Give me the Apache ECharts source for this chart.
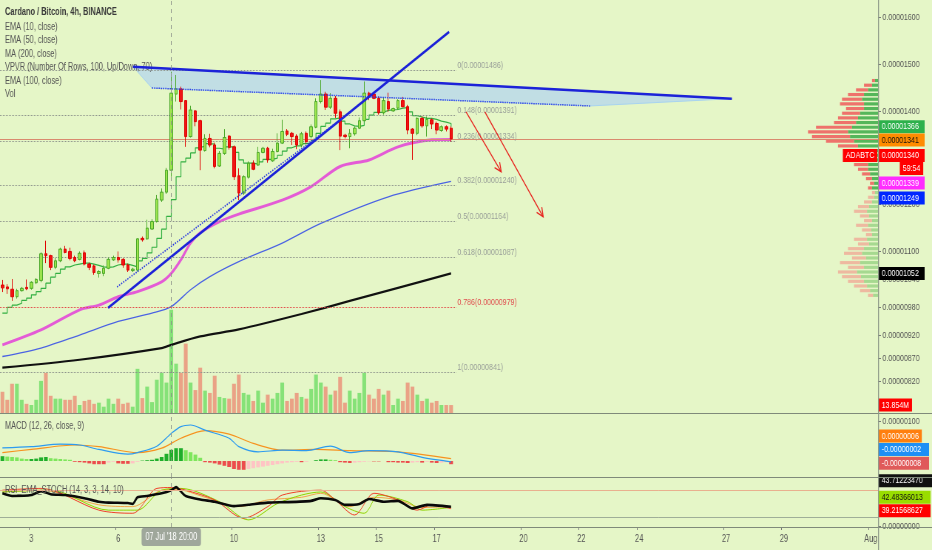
<!DOCTYPE html>
<html><head><meta charset="utf-8">
<script src="https://cdn.jsdelivr.net/npm/echarts@6/dist/echarts.min.js"></script>
<style>
html,body{margin:0;padding:0;background:#e5f6c7;overflow:hidden}
#wrap{width:932px;height:550px;overflow:hidden;position:relative}
#c{width:1260px;height:550px;transform:scaleX(0.739683);transform-origin:0 0}
</style>
</head><body><div id="wrap"><div id="c"></div></div>
<script>
const FONT = "'Liberation Sans', Arial, sans-serif";
const S = 932 / 1260;          // horizontal squeeze of the snapshot
const X = v => v / S;          // layout px (final) -> chart px

// ---------- categories (4h slots from 02 Jul 2018 00:00) ----------
const N_SLOTS = 182;
const categories = [];
for (let i = 0; i < N_SLOTS; i++) {
  let d = 2 + Math.floor(i / 6), h = (i % 6) * 4, mon = 'Jul';
  if (d > 31) { d -= 31; mon = 'Aug'; }
  categories.push(String(d).padStart(2, '0') + ' ' + mon + " '18 " + String(h).padStart(2, '0') + ':00');
}
const xTickIdx = [6, 24, 36, 48, 66, 78, 90, 108, 120, 132, 150, 162, 180];
const xTickText = ['3', '6', '8', '10', '13', '15', '17', '20', '22', '24', '27', '29', 'Aug'];
const crossIdx = 35;

// ---------- axis tick labels (units of 1e-8 BTC) ----------
const priceTicks = [820, 870, 920, 980, 1040, 1100, 1200, 1300, 1400, 1500, 1600];
const macdTicks = [100];
const rsiTicks = [0];

// ---------- candles [open, close, low, high] ----------
const candles = [
[1027,1021,1012,1038],[1023,1019,1008,1029],[1018,1002,993,1040],[1002,1015,998,1019],[1015,1020,1013,1023],
[1022,1019,1016,1039],[1020,1033,1017,1035],[1032,1039,1029,1042],[1037,1094,1033,1097],[1094,1090,1074,1122],
[1090,1065,1059,1092],[1065,1079,1061,1085],[1079,1104,1076,1107],[1104,1097,1095,1111],[1099,1084,1080,1107],
[1086,1079,1076,1090],[1082,1095,1080,1099],[1096,1072,1069,1101],[1072,1065,1059,1075],[1068,1054,1049,1071],
[1052,1056,1043,1059],[1052,1063,1046,1069],[1063,1082,1061,1086],[1081,1086,1079,1090],[1086,1081,1075,1099],
[1082,1070,1064,1085],[1070,1059,1055,1073],[1058,1061,1055,1064],[1059,1126,1056,1127],[1127,1124,1120,1131],
[1126,1149,1124,1167],[1147,1163,1145,1168],[1163,1211,1161,1220],[1209,1226,1205,1234],[1226,1273,1222,1278],
[1273,1438,1259,1484],[1436,1447,1420,1477],[1447,1420,1403,1452],[1422,1345,1323,1423],[1345,1402,1343,1411],
[1400,1377,1367,1402],[1379,1316,1273,1381],[1315,1341,1313,1350],[1341,1327,1322,1351],[1327,1281,1277,1332],
[1282,1309,1280,1314],[1309,1343,1306,1361],[1346,1322,1317,1348],[1323,1259,1252,1326],[1261,1224,1209,1277],
[1224,1259,1220,1262],[1258,1288,1255,1292],[1288,1275,1273,1294],[1284,1311,1282,1323],[1311,1320,1309,1323],
[1320,1295,1289,1323],[1293,1313,1291,1319],[1313,1331,1311,1352],[1331,1356,1329,1381],[1357,1350,1346,1361],
[1352,1345,1327,1355],[1346,1327,1318,1350],[1327,1351,1322,1355],[1352,1334,1330,1356],[1345,1366,1341,1371],
[1365,1420,1363,1427],[1420,1436,1416,1466],[1436,1408,1402,1441],[1408,1427,1404,1438],[1427,1395,1385,1432],
[1398,1346,1316,1403],[1348,1345,1341,1351],[1345,1352,1320,1361],[1351,1363,1347,1367],[1363,1379,1361,1386],
[1379,1438,1377,1463],[1438,1430,1423,1441],[1436,1427,1425,1440],[1427,1396,1392,1431],[1396,1422,1392,1429],
[1420,1404,1398,1439],[1400,1405,1398,1407],[1406,1422,1402,1425],[1422,1409,1408,1430],[1409,1359,1350,1413],
[1361,1352,1295,1363],[1352,1384,1348,1386],[1384,1368,1364,1388],[1368,1382,1345,1388],[1381,1372,1361,1384],
[1373,1359,1350,1377],[1358,1366,1355,1369],[1366,1361,1356,1369],[1363,1340,1334,1367]
];

// ---------- volume (millions) ----------
const volumes = [37,23,51,51,23,16,14,23,56,70,30,25,25,23,23,30,14,21,23,16,
18,11,25,16,25,16,18,11,77,26,46,19,58,70,53,180,86,70,121,53,
40,79,39,35,65,28,26,25,51,67,35,32,21,39,18,32,25,35,53,21,
25,35,28,25,42,67,53,46,32,39,63,18,39,25,35,70,32,25,42,32,
39,14,25,21,53,46,32,21,25,18,21,14,14,13.854];

// ---------- moving averages ----------
const ema10 = [967,979,984,988,994,999,1006,1013,1020,1031,1044,1052,1061,1066,1070,1072,1074,1074,1072,1069,
1066,1065,1066,1070,1072,1072,1069,1066,1079,1084,1096,1108,1127,1147,1174,1210,1259,1291,1299,1310,
1321,1325,1330,1329,1320,1318,1323,1323,1311,1295,1288,1288,1286,1291,1296,1296,1299,1305,1314,1321,
1325,1325,1330,1331,1337,1352,1367,1374,1383,1385,1378,1372,1368,1367,1369,1382,1391,1397,1397,1401,
1402,1403,1406,1407,1398,1390,1387,1384,1384,1382,1378,1376,1373,1366];
const ema50 = [[0,899],[8,931],[16,974],[20,984],[24,1002],[28,1013],[33,1034],[35,1052],[37,1081],[39,1117],
[41,1139],[45,1163],[49,1179],[58,1209],[64,1238],[70,1281],[76,1295],[82,1323],[89,1338],[93,1339]];
const ema100 = [[0,874],[8,892],[16,920],[24,949],[31,967],[35,981],[39,1017],[43,1045],[49,1077],[58,1117],
[66,1159],[80,1216],[93,1249]];
const ma200 = [[0,850],[16,867],[33,892],[35,899],[41,917],[49,932],[62,965],[72,993],[82,1021],[93,1052]];
const otherLast = 1341;

// ---------- fibonacci retracement ----------
const fibRatios = [0, 0.148, 0.236, 0.382, 0.5, 0.618, 0.786, 1];
const fibPrices = [1486, 1391, 1334, 1240, 1164, 1087, 979, 841];
const fibEndIdx = 94;

// ---------- drawings (x = 4h slot index, y = price) ----------
const downLine = [[27.07,1494.7],[151.2,1426.2]];
const channelLow = [[31.0,1449],[121.8,1410.6]];
const channelPoly = [[27.07,1494.7],[151.2,1426.2],[121.8,1410.6],[31.0,1449]];
const upLine = [[21.9,978],[92.6,1569]];
const upDotted = [[23.75,1023],[72.5,1400]];
const arrows = [[96.1,1397.7,103.4,1269.3],[100.0,1397.7,112.1,1173]];

// ---------- visible range volume profile ----------
const vpPrice = [1465,1455,1445,1435,1425,1415,1405,1395,1385,1375,1365,1355,1345,1335,1325,1315,1305,1295,1285,1275,1265,1255,1245,1235,
1225,1215,1205,1195,1185,1175,1165,1155,1145,1135,1125,1115,1105,1095,1085,1075,1065,1055,1045,1035,1025,1015,1005];
const vpUp = [3,6,10,14,16,14,14,18,20,22,26,30,28,24,20,16,16,12,10,10,8,6,4,6,
3,4,6,9,11,9,6,10,7,6,11,9,14,16,12,18,14,21,17,14,11,8,5];
const vpDown = [3,8,12,16,20,24,18,18,20,22,36,40,38,28,20,18,14,14,14,10,8,6,4,4,
3,6,8,11,13,9,8,12,9,6,13,11,16,18,14,20,16,19,19,16,13,10,5];
const vaLow = 1230;

// ---------- MACD ----------
const macdHist = [12,11,10,9,6,5,5,6,9,10,7,6,5,4,3,-2,-3,-4,-6,-8,
-8,-8,-4,-2,-6,-7,-7,-6,-2,1,2,3,6,10,18,28,32,32,27,22,
16,8,-3,-4,-6,-9,-12,-15,-20,-22,-22,-20,-18,-16,-14,-12,-10,-8,-6,-4,
-3,-2,-3,-2,0,2,4,4,3,2,-3,-4,-5,-4,-3,-2,-1,-1,-1,0,
-3,-3,-4,-4,-5,-4,-3,-4,-2,-4,-5,-4,-3,-8];
const macdLine = [[0,33],[6,36],[12,42],[16,40],[20,29],[26,17],[28,21],[32,37],[35,69],[37,86],[39,90],[42,77],
[47,57],[49,36],[53,23],[58,27],[63,26],[68,37],[72,21],[76,26],[82,23],[87,9],[93,-2]];
const signalLine = [[0,21],[6,29],[15,40],[20,36],[28,21],[33,32],[37,57],[42,76],[47,67],[52,44],[58,27],[65,29],
[72,26],[82,23],[93,6]];

// ---------- RSI EMA STOCH ----------
const rsiEma = [[0,74],[2,68],[6,70],[8,79],[10,72],[13,70],[17,63],[20,55],[22,53],[26,52],[27,50],[28,65],[30,68],
[33,74],[35,81],[36,88],[37,78],[38,68],[41,60],[44,55],[48,45],[51,48],[55,53],[59,54],[64,57],[66,63],[69,59],
[71,48],[74,50],[76,61],[79,55],[82,57],[85,40],[88,48],[93,43.7122347]];
const stochD = [[0,81],[8,85],[20,36],[27,29],[32,85],[35,87],[38,81],[44,59],[50,18],[55,44],[58,70],[66,81],[69,59],
[73,25],[77,74],[82,59],[86,36],[89,48],[93,39.21568627]];
const stochK = [[0,77],[10,81],[22,36],[28,36],[33,81],[37,85],[45,55],[51,14],[57,51],[62,70],[66,77],[71,44],
[75,29],[78,70],[84,55],[87,36],[93,42.48366013]];
const rsiLine = [[0,77],[8,81],[20,48],[27,44],[33,81],[36,83],[42,65],[49,44],[55,59],[62,65],[66,74],[72,44],
[77,65],[82,59],[87,42],[93,44]];
const rsiBands = [80, 20];

const legendLines = ['EMA (10, close)','EMA (50, close)','MA (200, close)','VPVR (Number Of Rows, 100, Up/Down, 70)','EMA (100, close)','Vol'];

// ---------- helpers ----------
const fmt8 = v => (v * 1e-8).toFixed(8);
const last = a => { const v = a[a.length - 1]; return Array.isArray(v) ? v[1] : v; };
const NOLINE = { width: 0, color: 'rgba(0,0,0,0)' };
function box(text, bg, fg, dy, opt) {
  opt = opt || {};
  const l = { show: true, position: opt.pos || 'end', distance: opt.dist == null ? 1 : opt.dist, formatter: text,
    backgroundColor: bg, color: fg, fontSize: 9.5, fontFamily: FONT, lineHeight: 11, padding: [1, 4, 1, 4],
    offset: [opt.dx || 0, dy], opacity: 1 };
  if (opt.w) l.width = opt.w;
  return l;
}
const tag = (v, text, bg, fg, dy, opt) => ({ yAxis: v, lineStyle: NOLINE, label: box(text, bg, fg, dy, opt) });
const hidden = { show: false };
const lastClose = candles[candles.length - 1][1];

const chart = echarts.init(document.getElementById('c'), null, { renderer: 'canvas', width: 1260, height: 550 });

const catAxis = (gi, showLabels, apLabel) => ({
  type: 'category', gridIndex: gi, data: categories, boundaryGap: true,
  axisLine: { show: false, onZero: false }, splitLine: hidden,
  axisTick: showLabels ? { show: true, length: 3, interval: (i) => xTickIdx.includes(i), lineStyle: { color: '#777' } } : hidden,
  axisLabel: showLabels ? { show: true, interval: (i) => xTickIdx.includes(i), formatter: (v, i) => xTickText[xTickIdx.indexOf(i)],
    color: '#555', fontSize: 10, margin: 7, fontFamily: FONT } : hidden,
  axisPointer: { show: true, type: 'line', value: crossIdx, status: 'show', snap: true, triggerTooltip: false,
    lineStyle: { color: '#8a8f88', width: 1, type: [4, 4] },
    label: { show: apLabel, formatter: () => categories[crossIdx], backgroundColor: '#9fa79b', color: '#fff',
      fontSize: 10, fontFamily: FONT, padding: [4, 5], margin: 1 } }
});

const valY = (gi, min, max, ticks) => ({
  type: 'value', gridIndex: gi, position: 'right', min, max, scale: false,
  splitLine: hidden, axisLine: { show: false, onZero: false },
  axisTick: { show: true, customValues: ticks, length: 4, lineStyle: { color: '#777' } },
  axisLabel: { show: true, customValues: ticks, formatter: fmt8, color: '#555', fontSize: 9.5, margin: 6, fontFamily: FONT }
});

// MACD histogram colours
const histData = macdHist.map((v, i) => {
  const p = i > 0 ? macdHist[i - 1] : v;
  let c;
  if (v >= 0) c = v >= p ? '#1fae2a' : '#7ee65c';
  else c = v <= p ? '#ec4c4c' : '#ffc4c4';
  return { value: v, itemStyle: { color: c } };
});

const gridR = X(54);
const option = {
  animation: false,
  backgroundColor: '#e5f6c7',
  textStyle: { fontFamily: FONT },
  title: [
    { text: 'Cardano / Bitcoin, 4h, BINANCE', left: X(5), top: 7, padding: 0, textStyle: { fontSize: 10, fontWeight: 'bold', color: '#3a3a3a', fontFamily: FONT } },
    { text: legendLines.join('\n'), left: X(5), top: 20.5, padding: 0, textStyle: { fontSize: 10, fontWeight: 'normal', color: '#555', lineHeight: 13.4, fontFamily: FONT } },
    { text: 'MACD (12, 26, close, 9)', left: X(5), top: 421.5, padding: 0, textStyle: { fontSize: 10, fontWeight: 'normal', color: '#555', fontFamily: FONT } },
    { text: 'RSI_EMA_STOCH (14, 3, 3, 14, 10)', left: X(5), top: 485, padding: 0, textStyle: { fontSize: 10, fontWeight: 'normal', color: '#555', fontFamily: FONT } }
  ],
  grid: [
    { left: 0, right: gridR, top: 0, height: 413, outerBoundsMode: 'none' },
    { left: 0, right: gridR, top: 414, height: 63, outerBoundsMode: 'none' },
    { left: 0, right: gridR, top: 478, height: 49, outerBoundsMode: 'none' }
  ],
  xAxis: [
    catAxis(0, false, false),
    catAxis(1, false, false),
    catAxis(2, true, true),
    { type: 'value', gridIndex: 0, min: -0.5, max: N_SLOTS - 0.5, show: false },
    { type: 'value', gridIndex: 0, min: 0, max: 878, inverse: true, show: false }
  ],
  yAxis: [
    valY(0, 753, 1637.5, priceTicks),
    { type: 'value', gridIndex: 0, min: 0, max: 720, show: false, axisLine: { onZero: false } },
    valY(1, -40, 117.5, macdTicks),
    valY(2, -2, 108.5, rsiTicks)
  ],
  graphic: [
    { type: 'line', z: 100, shape: { x1: 0, y1: 413.5, x2: 1260, y2: 413.5 }, style: { stroke: '#7f8a7a', lineWidth: 1.2 } },
    { type: 'line', z: 100, shape: { x1: 0, y1: 477.5, x2: 1260, y2: 477.5 }, style: { stroke: '#7f8a7a', lineWidth: 1.2 } },
    { type: 'line', z: 100, shape: { x1: 0, y1: 527.5, x2: 1260, y2: 527.5 }, style: { stroke: '#7f8a7a', lineWidth: 1.2 } },
    { type: 'line', z: 100, shape: { x1: X(878.5), y1: 0, x2: X(878.5), y2: 550 }, style: { stroke: '#8d9a88', lineWidth: 1.3 } }
  ],
  series: [
    // channel fill
    { type: 'custom', xAxisIndex: 3, yAxisIndex: 0, z: 1, silent: true, data: [channelPoly[0]],
      renderItem: (params, api) => ({ type: 'polygon', shape: { points: channelPoly.map(p => api.coord(p)) },
        style: { fill: 'rgba(180,214,238,0.75)', stroke: '#a9d4f0', lineWidth: 1 } }) },
    // volume profile
    { type: 'custom', xAxisIndex: 4, yAxisIndex: 0, z: 2, silent: true, clip: false,
      data: vpPrice.map((p, k) => [p, vpUp[k], vpDown[k]]),
      renderItem: (params, api) => {
        const p = api.value(0), u = api.value(1), d = api.value(2);
        const yt = api.coord([0, p + 3.4])[1], yb = api.coord([0, p - 3.4])[1];
        const x0 = api.coord([0, p])[0], xu = api.coord([u, p])[0], xd = api.coord([u + d, p])[0];
        const inVa = p >= vaLow;
        return { type: 'group', children: [
          { type: 'rect', shape: { x: xu, y: yt, width: x0 - xu, height: yb - yt }, style: { fill: inVa ? 'rgba(60,170,70,0.85)' : 'rgba(150,210,130,0.8)' } },
          { type: 'rect', shape: { x: xd, y: yt, width: xu - xd, height: yb - yt }, style: { fill: inVa ? 'rgba(240,90,90,0.85)' : 'rgba(240,170,150,0.8)' } }
        ] };
      } },
    // volume
    { type: 'bar', name: 'Vol', xAxisIndex: 0, yAxisIndex: 1, z: 2, barWidth: '78%', silent: true, clip: false,
      data: volumes.map((v, i) => ({ value: v, itemStyle: { color: candles[i][1] >= candles[i][0] ? '#86e278' : '#eaa286' } })),
      markLine: { silent: true, symbol: ['none', 'none'], data: [ tag(last(volumes), last(volumes).toFixed(3) + 'M', '#ff0000', '#fff', 0) ] } },
    // moving averages
    { type: 'line', name: 'EMA100', xAxisIndex: 0, yAxisIndex: 0, z: 3, data: ema100, smooth: 0.3, symbol: 'none', lineStyle: { color: '#4a62e4', width: 1.3 } },
    { type: 'line', name: 'MA200', xAxisIndex: 0, yAxisIndex: 0, z: 3, data: ma200, smooth: 0.3, symbol: 'none', lineStyle: { color: '#111', width: 2.2 } },
    { type: 'line', name: 'EMA50', xAxisIndex: 0, yAxisIndex: 0, z: 3, data: ema50, smooth: 0.3, symbol: 'none', lineStyle: { color: '#e45bd6', width: 3 } },
    { type: 'line', name: 'EMA10', xAxisIndex: 0, yAxisIndex: 0, z: 4, data: ema10, step: 'end', symbol: 'none', lineStyle: { color: '#33b042', width: 1.2 } },
    // candles
    { type: 'candlestick', xAxisIndex: 0, yAxisIndex: 0, z: 5, data: candles, barWidth: '62%', clip: false,
      itemStyle: { color: '#9de44e', color0: '#f01414', borderColor: '#4aa829', borderColor0: '#e00000', borderWidth: 1 },
      markLine: { silent: true, symbol: ['none', 'none'], data: [
        { yAxis: lastClose, lineStyle: { color: '#d98a6e', width: 1, type: 'solid' }, label: { show: false } },
        tag(last(ema10), fmt8(last(ema10)), '#2db14c', '#fff', 0, { w: 54 }),
        tag(otherLast, fmt8(otherLast), '#ff8c00', '#111', 1.5, { w: 54 }),
        tag(lastClose, fmt8(lastClose), '#ff0000', '#fff', 16.5, { w: 54 }),
        tag(lastClose, '59:54', '#ff0000', '#fff', 29.5, { dx: X(21) }),
        tag(lastClose, 'ADABTC', '#ff0000', '#fff', 16.5, { pos: 'insideEnd', dist: 1 }),
        tag(last(ema50), fmt8(last(ema50)), '#ff2bff', '#fff', 43.6, { w: 54 }),
        tag(last(ema100), fmt8(last(ema100)), '#0026ff', '#fff', 16.5, { w: 54 }),
        tag(last(ma200), fmt8(last(ma200)), '#000', '#fff', 0, { w: 54 })
      ] } },
    // trend lines + fib levels
    { type: 'line', xAxisIndex: 3, yAxisIndex: 0, z: 6, data: downLine, symbol: 'none', silent: true, lineStyle: { color: '#1c22d8', width: 2.5 },
      markLine: { silent: true, symbol: ['none', 'none'], data: fibPrices.map((p, k) => {
        const red = fibRatios[k] === 0.786;
        return [ { coord: [-0.5, p], lineStyle: { color: red ? '#e24848' : '#8e948c', width: 1, type: 'dotted' },
          label: { show: true, position: 'end', distance: 2, offset: [0, -5], formatter: fibRatios[k] + '(' + fmt8(p) + ')',
            color: red ? '#e05050' : '#9ba19a', fontSize: 9.5, fontFamily: FONT } },
          { coord: [fibEndIdx, p] } ];
      }) } },
    { type: 'line', xAxisIndex: 3, yAxisIndex: 0, z: 6, data: channelLow, symbol: 'none', silent: true, lineStyle: { color: '#2a3ae0', width: 1.5, type: 'dotted' } },
    { type: 'line', xAxisIndex: 3, yAxisIndex: 0, z: 6, data: upLine, symbol: 'none', silent: true, lineStyle: { color: '#1c22d8', width: 2.6 } },
    { type: 'line', xAxisIndex: 3, yAxisIndex: 0, z: 6, data: upDotted, symbol: 'none', silent: true, lineStyle: { color: '#2a3ae0', width: 1.6, type: 'dotted' } },
    // arrows
    { type: 'custom', xAxisIndex: 3, yAxisIndex: 0, z: 6, silent: true, data: arrows,
      renderItem: (params, api) => {
        const a = api.coord([api.value(0), api.value(1)]), b = api.coord([api.value(2), api.value(3)]);
        const ang = Math.atan2(b[1] - a[1], b[0] - a[0]), L = 10, w = 0.45;
        const p1 = [b[0] - L * Math.cos(ang - w), b[1] - L * Math.sin(ang - w)];
        const p2 = [b[0] - L * Math.cos(ang + w), b[1] - L * Math.sin(ang + w)];
        return { type: 'group', children: [
          { type: 'line', shape: { x1: a[0], y1: a[1], x2: b[0], y2: b[1] }, style: { stroke: '#e8231e', lineWidth: 1.3 } },
          { type: 'polyline', shape: { points: [p1, b, p2] }, style: { stroke: '#e8231e', lineWidth: 1.3, fill: null } }
        ] };
      } },
    // MACD
    { type: 'bar', xAxisIndex: 1, yAxisIndex: 2, data: histData, barWidth: '78%', silent: true, z: 2 },
    { type: 'line', xAxisIndex: 1, yAxisIndex: 2, data: signalLine, smooth: 0.3, symbol: 'none', lineStyle: { color: '#f7921e', width: 1.2 }, z: 3, clip: false,
      markLine: { silent: true, symbol: ['none', 'none'], data: [ tag(last(signalLine), fmt8(last(signalLine)), '#ff7f0e', '#fff', -22.6) ] } },
    { type: 'line', xAxisIndex: 1, yAxisIndex: 2, data: macdLine, smooth: 0.3, symbol: 'none', lineStyle: { color: '#2d9bf0', width: 1.2 }, z: 3, clip: false,
      markLine: { silent: true, symbol: ['none', 'none'], data: [
        tag(last(macdLine), fmt8(last(macdLine)), '#1e8ff5', '#fff', -12.3, { w: 60 }),
        tag(last(macdHist), fmt8(last(macdHist)), '#e05a5a', '#fff', -1, { w: 60 })
      ] } },
    // RSI EMA STOCH
    { type: 'line', xAxisIndex: 2, yAxisIndex: 3, data: rsiLine, smooth: 0.3, symbol: 'none', lineStyle: { color: '#f2a54a', width: 1 }, z: 3,
      markLine: { silent: true, symbol: ['none', 'none'], data: [
        { yAxis: rsiBands[0], lineStyle: { color: '#e9b08e', width: 1, type: 'solid' }, label: { show: false } },
        { yAxis: rsiBands[1], lineStyle: { color: '#9fae98', width: 1, type: 'solid' }, label: { show: false } }
      ] } },
    { type: 'line', xAxisIndex: 2, yAxisIndex: 3, data: stochK, smooth: 0.3, symbol: 'none', lineStyle: { color: '#8fd400', width: 1 }, z: 3, clip: false,
      markLine: { silent: true, symbol: ['none', 'none'], data: [ tag(last(stochK), last(stochK).toFixed(8), '#99dd00', '#111', -10, { w: 62 }) ] } },
    { type: 'line', xAxisIndex: 2, yAxisIndex: 3, data: stochD, smooth: 0.3, symbol: 'none', lineStyle: { color: '#f0402a', width: 1 }, z: 3, clip: false,
      markLine: { silent: true, symbol: ['none', 'none'], data: [ tag(last(stochD), last(stochD).toFixed(8), '#ff0000', '#fff', 2, { w: 62 }) ] } },
    { type: 'line', xAxisIndex: 2, yAxisIndex: 3, data: rsiEma, smooth: 0.2, symbol: 'none', lineStyle: { color: '#0a0a0a', width: 2.6 }, z: 4, clip: false,
      markLine: { silent: true, symbol: ['none', 'none'], data: [ tag(last(rsiEma), last(rsiEma).toFixed(8), '#111', '#fff', -26, { w: 64 }) ] } }
  ]
};
chart.setOption(option);
</script>
</body></html>
